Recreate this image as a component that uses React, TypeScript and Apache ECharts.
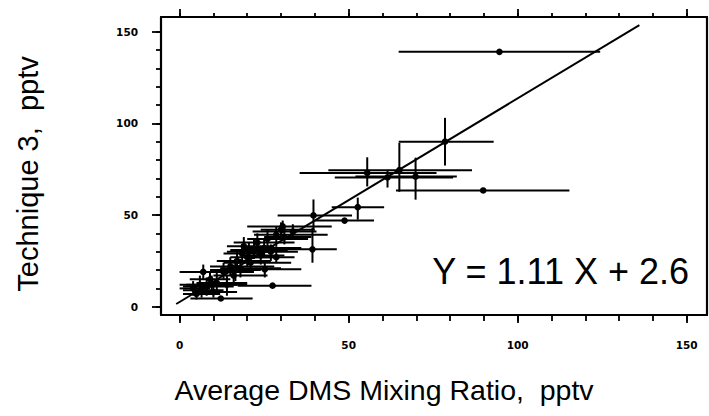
import React, { useEffect, useRef } from "react";
import * as echarts from "echarts";

// Measured points: x, y, and error-bar ends (x low/high, y low/high)
const pointX = [94.6, 78.5, 65, 55.5, 61.5, 69.8, 89.8, 52.7, 39.6, 48.8, 39.3, 27.5, 12.2, 33.5, 30.5, 28.6, 28.6, 25.2,
  4, 5, 6, 7, 8, 9, 10, 11, 13, 14, 15, 16, 17, 18, 18.5, 19, 20, 21, 22, 23, 24, 25, 26, 27, 30, 31, 6.5, 9.5, 16.5, 20.5];
const pointY = [139, 90, 74.5, 73, 70.5, 71, 63.4, 54.3, 49.8, 47, 31.3, 11.5, 4.5, 41, 43.8, 39.3, 27, 20.4,
  10, 7, 12, 19, 11, 15, 8, 13, 19, 12, 22, 17, 25, 21, 29, 33, 27, 24, 31, 35, 28, 32, 37, 30, 42, 38, 9, 12, 20, 30];
const xLow = [64.8, 64.8, 44, 35.5, 45.9, 52, 64, 45, 29, 40, 31.8, 17.2, 3.2, 21.6, 20, 22, 20, 17,
  0, 1, 0, 0, 1, 3, 4, 5, 6, 8, 9, 10, 11, 12, 13, 14, 15, 13, 15, 16, 18, 19, 20, 21, 24, 25, 1, 2, 9, 14];
const xHigh = [124.4, 92.9, 86.5, 76, 80.9, 82, 115.3, 60.5, 51, 57.5, 46.5, 39, 21.6, 40.5, 45, 43.8, 34, 36,
  9, 12, 14, 15, 16, 15, 17, 20, 22, 20, 28, 26, 27, 30, 25, 28, 29, 33, 32, 34, 31, 36, 38, 35, 40, 39, 13, 17, 24, 28];
const yLow = [139, 77, 62.7, 65.6, 65, 58.4, 63.4, 47.5, 42, 47, 24, 11.5, 4.5, 37, 40, 33, 24, 16,
  6, 4, 8, 15, 6, 11, 5, 9, 15, 6, 17, 12, 20, 16, 24, 28, 22, 19, 26, 30, 23, 27, 32, 25, 38, 34, 5, 7, 14, 25];
const yHigh = [139, 103, 89.3, 81.5, 74, 81.3, 63.4, 59.5, 58.5, 47, 43, 11.5, 4.5, 45, 47, 44, 33, 25,
  14, 11, 17, 23, 16, 19, 12, 20, 24, 17, 27, 23, 31, 26, 34, 38, 33, 28, 37, 40, 33, 37, 42, 34, 46, 43, 13, 17, 26, 35];

// Fitted line endpoints
const fitLine = [[-1, 1.5], [136, 153.6]];

const xMinorTicks = [0, 10, 20, 30, 40, 50, 60, 70, 80, 90, 100, 110, 120, 130, 140, 150];
const xMajorTicks = [0, 50, 100, 150];
const yMinorTicks = [0, 10, 20, 30, 40, 50, 60, 70, 80, 90, 100, 110, 120, 130, 140, 150];
const yMajorTicks = [0, 50, 100, 150];

const xTitle = "Average DMS Mixing Ratio,  pptv";
const yTitle = "Technique 3,  pptv";
const equation = "Y = 1.11 X + 2.6";

const X_MIN = -5.5, X_MAX = 156, Y_MIN = -4.5, Y_MAX = 158;
const tickLabelStyle = { color: "#000", fontFamily: "DejaVu Sans", fontWeight: "bold" as const, fontSize: 10.5 };

export default function App() {
  const ref = useRef<HTMLDivElement>(null);
  useEffect(() => {
    if (!ref.current) return;
    const chart = echarts.init(ref.current, null, { renderer: "svg" });
    const data = pointX.map((x, i) => [x, pointY[i], xLow[i], xHigh[i], yLow[i], yHigh[i]]);
    const line = { color: "#000", width: 2.2 };
    const mkX = (position: string, ticks: number[], len: number, showLine: boolean, labels: number[] | null) => ({
      type: "value", gridIndex: 0, position, min: X_MIN, max: X_MAX,
      axisLine: { show: showLine, onZero: false, lineStyle: line },
      axisTick: { show: true, customValues: ticks, length: len, inside: false, lineStyle: { color: "#000", width: 1.8 } },
      axisLabel: labels ? { show: true, customValues: labels, margin: 24, ...tickLabelStyle } : { show: false },
      splitLine: { show: false },
    });
    const mkY = (position: string, ticks: number[], len: number, showLine: boolean, labels: number[] | null) => ({
      type: "value", gridIndex: 0, position, min: Y_MIN, max: Y_MAX,
      axisLine: { show: showLine, onZero: false, lineStyle: line },
      axisTick: ticks.length ? { show: true, customValues: ticks, length: len, inside: false, lineStyle: { color: "#000", width: 1.8 } } : { show: false },
      axisLabel: labels ? { show: true, customValues: labels, margin: 23, ...tickLabelStyle } : { show: false },
      splitLine: { show: false },
    });
    chart.setOption({
      animation: false,
      backgroundColor: "#fff",
      grid: { left: 161, right: 2, top: 17, bottom: 101, containLabel: false },
      xAxis: [
        mkX("bottom", xMinorTicks, 6, true, xMajorTicks),
        mkX("bottom", xMajorTicks, 8, false, null),
        mkX("top", xMinorTicks, 4, true, null),
        mkX("top", xMajorTicks, 8, false, null),
      ],
      yAxis: [
        mkY("left", yMinorTicks, 5, true, yMajorTicks),
        mkY("left", yMajorTicks, 9, false, null),
        mkY("right", [], 0, true, null),
      ],
      series: [
        {
          type: "line", xAxisIndex: 0, yAxisIndex: 0, data: fitLine, symbol: "none",
          lineStyle: { color: "#000", width: 2 }, silent: true,
        },
        {
          type: "custom", xAxisIndex: 0, yAxisIndex: 0, data,
          encode: { x: [0, 2, 3], y: [1, 4, 5] },
          renderItem: (params: any, api: any) => {
            const p = api.coord([api.value(0), api.value(1)]);
            const xl = api.coord([api.value(2), api.value(1)]);
            const xh = api.coord([api.value(3), api.value(1)]);
            const yl = api.coord([api.value(0), api.value(4)]);
            const yh = api.coord([api.value(0), api.value(5)]);
            const st = { stroke: "#000", lineWidth: 2 };
            return {
              type: "group",
              children: [
                { type: "line", shape: { x1: xl[0], y1: xl[1], x2: xh[0], y2: xh[1] }, style: st },
                { type: "line", shape: { x1: yl[0], y1: yl[1], x2: yh[0], y2: yh[1] }, style: st },
                { type: "circle", shape: { cx: p[0], cy: p[1], r: 3.3 }, style: { fill: "#000" } },
              ],
            };
          },
        },
      ],
      graphic: [
        {
          type: "text", x: 28, y: 174, rotation: Math.PI / 2,
          style: { text: yTitle, font: '29px "Liberation Sans", Arial, sans-serif', fill: "#000", textAlign: "center", textVerticalAlign: "middle" },
        },
        {
          type: "text", x: 384, y: 390,
          style: { text: xTitle, font: '28.5px "Liberation Sans", Arial, sans-serif', fill: "#000", textAlign: "center", textVerticalAlign: "middle" },
        },
        {
          type: "text", x: 689, y: 271,
          style: { text: equation, font: '36px "Liberation Sans", Arial, sans-serif', fill: "#000", textAlign: "right", textVerticalAlign: "middle" },
        },
      ],
    });
    return () => chart.dispose();
  }, []);
  return <div ref={ref} style={{ position: "fixed", left: 0, top: 0, width: 709, height: 416 }} />;
}
